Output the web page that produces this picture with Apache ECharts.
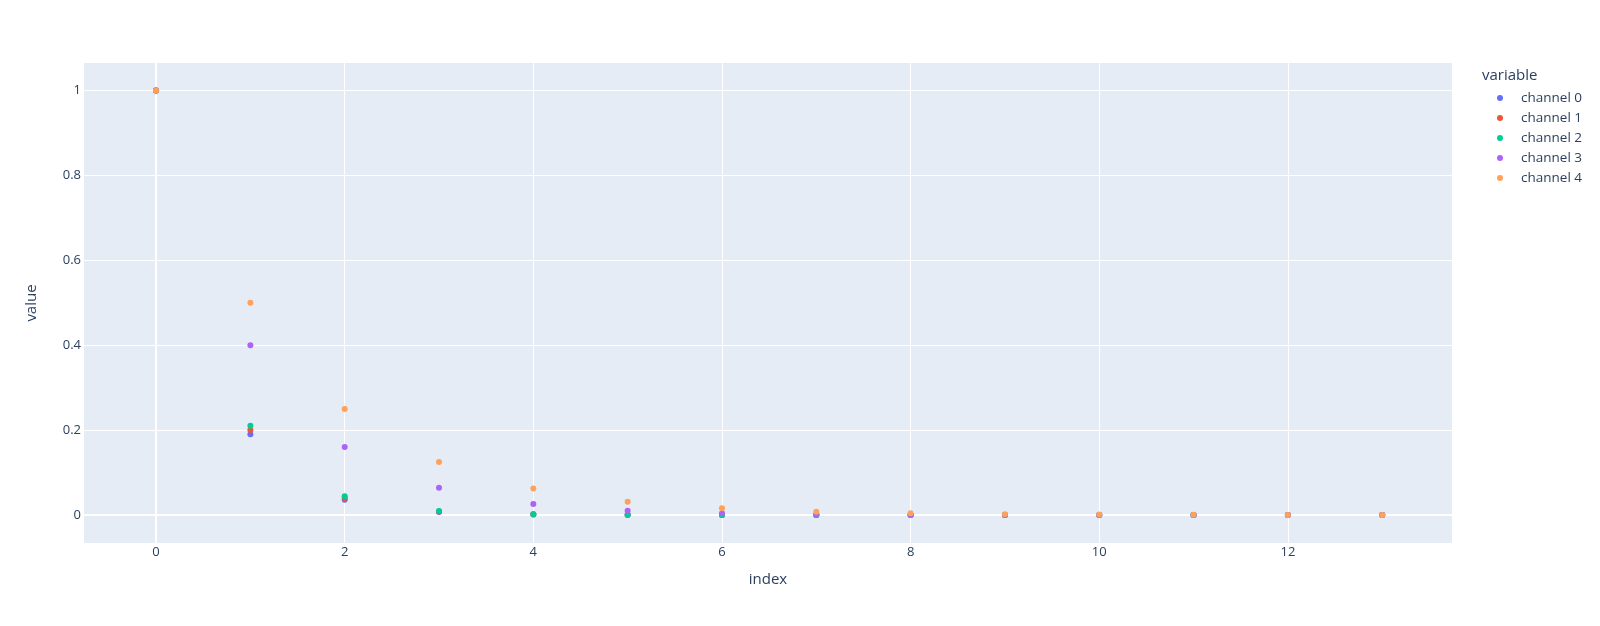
<!DOCTYPE html>
<html>
<head>
<meta charset="utf-8">
<script src="https://cdn.jsdelivr.net/npm/echarts@6/dist/echarts.min.js"></script>
<style>html,body{margin:0;padding:0;background:#fff}#c{width:1600px;height:626px}</style>
</head>
<body>
<div id="c"></div>
<script>
const indexValues = [0,1,2,3,4,5,6,7,8,9,10,11,12,13];
const seriesNames = ['channel 0','channel 1','channel 2','channel 3','channel 4'];
const channel0 = [1, 0.19, 0.0361, 0.00686, 0.0013, 0.000248, 0.000047, 0.0000089, 0.0000017, 3.2e-7, 6e-8, 1.2e-8, 2.2e-9, 4.2e-10];
const channel1 = [1, 0.2, 0.04, 0.008, 0.0016, 0.00032, 0.000064, 0.0000128, 2.6e-6, 5.1e-7, 1e-7, 2e-8, 4.1e-9, 8.2e-10];
const channel2 = [1, 0.21, 0.0441, 0.00926, 0.00194, 0.000408, 0.0000858, 0.000018, 3.8e-6, 7.9e-7, 1.7e-7, 3.5e-8, 7.4e-9, 1.6e-9];
const channel3 = [1, 0.4, 0.16, 0.064, 0.0256, 0.0102, 0.0041, 0.00164, 0.00066, 0.00026, 0.0001, 0.000042, 0.0000168, 6.7e-6];
const channel4 = [1, 0.5, 0.25, 0.125, 0.0625, 0.0313, 0.0156, 0.0078, 0.0039, 0.002, 0.001, 0.00049, 0.00024, 0.00012];
const xTicks = [0,2,4,6,8,10,12];
const yTicks = [0,0.2,0.4,0.6,0.8,1];
const colors = ['#636efa','#EF553B','#00cc96','#ab63fa','#FFA15A'];
const allData = [channel0, channel1, channel2, channel3, channel4];

const font = '"Open Sans", verdana, arial, sans-serif';
const txt = '#2a3f5f';
const chart = echarts.init(document.getElementById('c'), null, {renderer: 'canvas'});
chart.setOption({
  animation: false,
  color: colors,
  textStyle: {fontFamily: font},
  title: {
    text: 'variable', left: 1482, top: 68, padding: 0,
    textStyle: {fontFamily: font, fontSize: 15, fontWeight: 'normal', color: txt}
  },
  legend: {
    orient: 'vertical', left: 1497, top: 91, padding: 0,
    icon: 'circle', itemWidth: 6, itemHeight: 6, itemGap: 6, itemTextGap: 19,
    textStyle: {fontFamily: font, fontSize: 13.5, color: txt, padding: [0, 0, 0, 13]},
    data: seriesNames
  },
  grid: {
    left: 84, right: 148, top: 63, bottom: 83,
    show: true, backgroundColor: '#E5ECF6', borderWidth: 0, containLabel: false
  },
  xAxis: {
    type: 'value', min: -0.764, max: 13.74,
    name: 'index', nameLocation: 'middle', nameGap: 29,
    nameTextStyle: {fontFamily: font, fontSize: 15, color: txt},
    axisLine: {show: true, onZero: true, lineStyle: {color: '#fff', width: 2}},
    axisTick: {show: false, customValues: xTicks},
    axisLabel: {customValues: xTicks, color: txt, fontSize: 13, fontFamily: font, margin: 3},
    splitLine: {show: true, lineStyle: {color: '#fff', width: 1}}
  },
  yAxis: {
    type: 'value', min: -0.066, max: 1.065,
    name: 'value', nameLocation: 'middle', nameGap: 45, nameRotate: 90,
    nameTextStyle: {fontFamily: font, fontSize: 15, color: txt},
    axisLine: {show: true, onZero: true, lineStyle: {color: '#fff', width: 2}},
    axisTick: {show: false, customValues: yTicks},
    axisLabel: {customValues: yTicks, color: txt, fontSize: 13, fontFamily: font, margin: 3},
    splitLine: {show: true, lineStyle: {color: '#fff', width: 1}}
  },
  series: seriesNames.map((name, i) => ({
    name: name,
    type: 'scatter',
    symbol: 'circle',
    symbolSize: 6,
    itemStyle: {color: colors[i], opacity: 1},
    data: indexValues.map((x, j) => [x, allData[i][j]])
  }))
});
</script>
</body>
</html>
